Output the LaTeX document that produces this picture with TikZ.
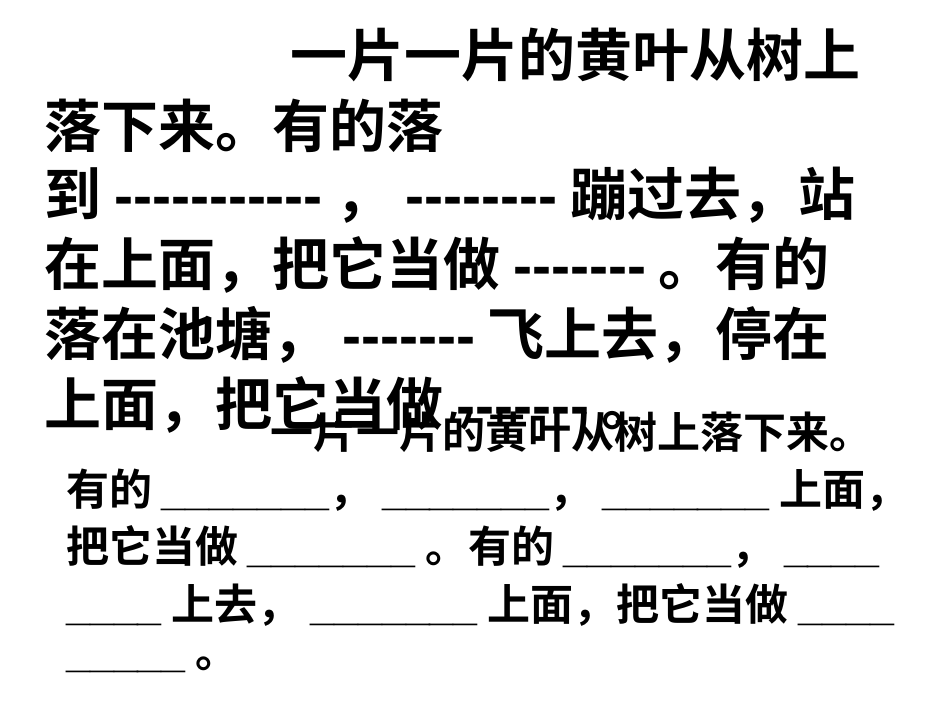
\documentclass[tikz,border=0pt]{standalone}
\usepackage{fontspec}
\setmainfont{Noto Sans CJK SC}[BoldFont={* Bold}]
\newfontfamily\lat{Liberation Sans}[Ligatures=ResetAll]
\begin{document}
\begin{tikzpicture}[x=1pt,y=1pt,
  big/.style={anchor=west,inner sep=0pt,font=\fontsize{57}{60}\selectfont\bfseries},
  small/.style={anchor=west,inner sep=0pt,font=\fontsize{43}{46}\selectfont\bfseries}]
\useasboundingbox[fill=white] (0,0) rectangle (950,713);
\node[big] (a1) at (290,658) {一片一片的黄叶从树上};
\node[big] (a2) at (44,587) {落下来。有的落};
\node[big] (a3) at (44,518) {到 {\lat -{}-{}-{}-{}-{}-{}-{}-{}-{}-{}-} ， {\lat -{}-{}-{}-{}-{}-{}-{}-} 蹦过去，站};
\node[big] (a4) at (44,448) {在上面，把它当做 {\lat -{}-{}-{}-{}-{}-{}-} 。有的};
\node[big] (a5) at (44,378) {落在池塘， {\lat -{}-{}-{}-{}-{}-{}-} 飞上去，停在};
\node[big] (a6) at (44,308) {上面，把它当做 {\lat -{}-{}-{}-{}-{}-{}-} 。};
\node[small] (b1) at (270,281) {一片一片的黄叶从树上落下来。};
\node[small] (b2) at (66,223) {有的 {\lat\_\_\_\_\_\_\_}， {\lat\_\_\_\_\_\_\_}， {\lat\_\_\_\_\_\_\_} 上面，};
\node[small] (b3) at (66,166) {把它当做 {\lat\_\_\_\_\_\_\_} 。有的 {\lat\_\_\_\_\_\_\_}， {\lat\_\_\_\_}};
\node[small] (b4) at (66,108) {{\lat\_\_\_\_} 上去， {\lat\_\_\_\_\_\_\_} 上面，把它当做 {\lat\_\_\_\_}};
\node[small] (b5) at (66,48) {{\lat\_\_\_\_\_} 。};
\end{tikzpicture}
\end{document}
